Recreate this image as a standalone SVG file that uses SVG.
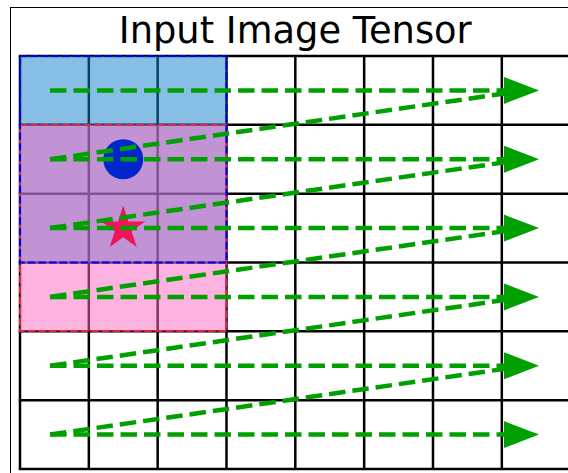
<svg xmlns="http://www.w3.org/2000/svg" width="568" height="473" viewBox="0 0 568 473">
  <style>
    .grid line { stroke: #000; stroke-width: 2.5; }
    .title { font-family: "DejaVu Sans", "Liberation Sans", sans-serif; font-size: 36.8px; fill: #000; }
    .flow { fill: none; stroke: #00a000; stroke-width: 4.5; stroke-dasharray: 16.5 7; }
    .hflow { marker-end: url(#head); }
  </style>
  <defs>
    <marker id="head" markerUnits="userSpaceOnUse" markerWidth="36" markerHeight="28" viewBox="0 -14 36 28" refX="0" refY="0" orient="auto" overflow="visible">
      <path d="M0,-13.5 L35,0 L0,13.5 Z" fill="#00a000"/>
    </marker>
  </defs>
  <rect width="568" height="473" fill="#fff"/>
  <rect x="10.5" y="7.5" width="620" height="520" fill="none" stroke="#000" stroke-width="1"/>
  <g id="title">
    <text class="title" x="295.3" y="42.5" text-anchor="middle">Input Image Tensor</text>
  </g>
  <g id="grid" class="grid">
    <line x1="20" y1="56" x2="20" y2="469"/>
    <line x1="88.83" y1="56" x2="88.83" y2="469"/>
    <line x1="157.66" y1="56" x2="157.66" y2="469"/>
    <line x1="226.49" y1="56" x2="226.49" y2="469"/>
    <line x1="295.32" y1="56" x2="295.32" y2="469"/>
    <line x1="364.15" y1="56" x2="364.15" y2="469"/>
    <line x1="432.98" y1="56" x2="432.98" y2="469"/>
    <line x1="501.81" y1="56" x2="501.81" y2="469"/>
    <line x1="570.64" y1="56" x2="570.64" y2="469"/>
    <line x1="18.75" y1="56" x2="572" y2="56"/>
    <line x1="18.75" y1="124.83" x2="572" y2="124.83"/>
    <line x1="18.75" y1="193.66" x2="572" y2="193.66"/>
    <line x1="18.75" y1="262.49" x2="572" y2="262.49"/>
    <line x1="18.75" y1="331.32" x2="572" y2="331.32"/>
    <line x1="18.75" y1="400.15" x2="572" y2="400.15"/>
    <line x1="18.75" y1="469" x2="572" y2="469"/>
  </g>
  <g id="blue-window">
    <rect x="20" y="56" width="206.49" height="206.49" fill="rgb(13,125,205)" fill-opacity="0.5"/>
  </g>
  <g id="red-window">
    <rect x="20" y="124.83" width="206.49" height="206.49" fill="rgb(251,101,193)" fill-opacity="0.5"/>
    <rect x="20" y="124.83" width="206.49" height="206.49" fill="none" stroke="#e0283c" stroke-width="2" stroke-dasharray="7.4 3.2"/>
  </g>
  <g id="blue-window-border">
    <rect x="20" y="56" width="206.49" height="206.49" fill="none" stroke="#0000e6" stroke-width="2" stroke-dasharray="7.4 3.2"/>
  </g>
  <g id="circle">
    <circle cx="123.25" cy="159.25" r="20" fill="#0026cc"/>
  </g>
  <g id="star">
    <polygon points="123.2,205.5 128.37,221.39 145.08,221.39 131.56,231.22 136.72,247.11 123.2,237.29 109.68,247.11 114.84,231.22 101.32,221.39 118.03,221.39" fill="#f0145a"/>
  </g>
  <g id="connectors">
    <path class="flow hflow" d="M50,90.4 H504"/>
    <path class="flow hflow" d="M50,159.25 H504"/>
    <path class="flow hflow" d="M50,228.1 H504"/>
    <path class="flow hflow" d="M50,296.9 H504"/>
    <path class="flow hflow" d="M50,365.75 H504"/>
    <path class="flow hflow" d="M50,434.6 H504"/>
    <path class="flow" d="M50,159.25 L505,93.4"/>
    <path class="flow" d="M50,228.1 L505,162.25"/>
    <path class="flow" d="M50,296.9 L505,231.1"/>
    <path class="flow" d="M50,365.75 L505,299.9"/>
    <path class="flow" d="M50,434.6 L505,368.75"/>
  </g>
</svg>
